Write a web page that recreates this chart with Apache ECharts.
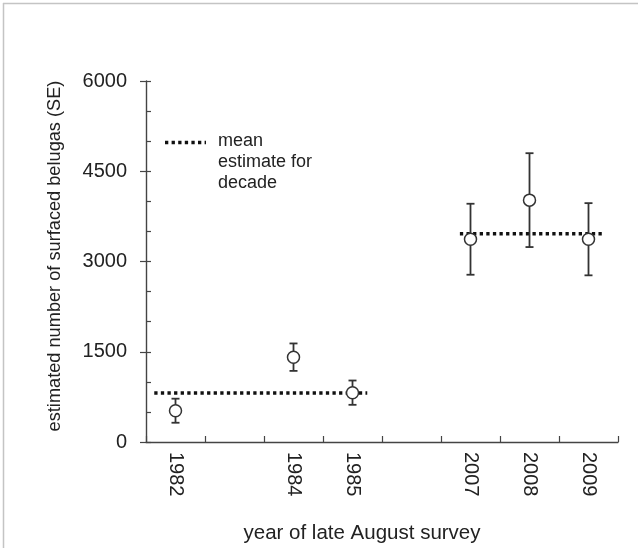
<!DOCTYPE html>
<html>
<head>
<meta charset="utf-8">
<script src="https://cdn.jsdelivr.net/npm/echarts@6/dist/echarts.min.js"></script>
<style>
  html, body { margin: 0; padding: 0; background: #fff; }
  #chart { width: 638px; height: 548px; }
</style>
</head>
<body>
<div id="chart"></div>
<script>
// Survey years (blank slots keep the gaps between survey years)
const years = ['1982', '', '1984', '1985', '', '2007', '2008', '2009'];
// Estimated number of surfaced belugas per survey year
const estimates = [520, null, 1410, 820, null, 3370, 4020, 3370];
// Standard error (half-length of each error bar)
const standardErrors = [200, null, 228, 202, null, 590, 780, 600];
// Mean estimate for each decade and the category span its line covers
const decadeMeans = [815, 3460];
const decadeSpans = [[-0.36, 3.25], [4.82, 7.23]];
// Y-axis range and tick steps
const yMin = 0, yMax = 6000, yLabelStep = 1500, yMinorStep = 500;

const FONT = '"Liberation Sans", Arial, sans-serif';
const INK = '#222';
const AXIS = '#444';

const points = [];
const bars = [];
estimates.forEach((v, i) => {
  if (v == null) return;
  points.push([i, v]);
  bars.push([i, v - standardErrors[i], v + standardErrors[i]]);
});

const meanSeries = decadeMeans.map((m, k) => ({
  type: 'line',
  xAxisIndex: 1,
  yAxisIndex: 0,
  symbol: 'none',
  silent: true,
  z: 3,
  lineStyle: { color: '#111', width: 3.4, type: [3.3, 3.3], cap: 'butt' },
  data: [[decadeSpans[k][0], m], [decadeSpans[k][1], m]]
}));

const chart = echarts.init(document.getElementById('chart'), null, { renderer: 'canvas' });

chart.setOption({
  animation: false,
  backgroundColor: '#fff',
  grid: { left: 146, right: 20, top: 81, bottom: 106, containLabel: false },
  xAxis: [
    {
      type: 'category',
      data: years,
      boundaryGap: true,
      axisLine: { show: true, onZero: false, lineStyle: { color: AXIS, width: 1.4 } },
      axisTick: { show: true, inside: true, length: 6, interval: 0, alignWithLabel: false,
                  lineStyle: { color: AXIS, width: 1.2 } },
      axisLabel: { rotate: -90, margin: 10, interval: 0, color: INK,
                   fontFamily: FONT, fontSize: 20 },
      splitLine: { show: false }
    },
    {
      type: 'value',
      min: -0.5,
      max: 7.5,
      show: false
    }
  ],
  yAxis: [
    {
      type: 'value',
      min: yMin,
      max: yMax,
      interval: yLabelStep,
      position: 'left',
      axisLine: { show: true, onZero: false, lineStyle: { color: AXIS, width: 1.4 } },
      axisTick: { show: true, inside: false, length: 6, lineStyle: { color: AXIS, width: 1.2 } },
      axisLabel: { margin: 19, color: INK, fontFamily: FONT, fontSize: 20,
                   formatter: v => String(v) },
      splitLine: { show: false }
    },
    {
      type: 'value',
      min: yMin,
      max: yMax,
      interval: yMinorStep,
      position: 'left',
      offset: 0,
      axisLine: { show: false, onZero: false },
      axisTick: { show: true, inside: true, length: 5, lineStyle: { color: AXIS, width: 1.2 } },
      axisLabel: { show: false },
      splitLine: { show: false }
    }
  ],
  series: [
    ...meanSeries,
    {
      type: 'custom',
      xAxisIndex: 0,
      yAxisIndex: 0,
      silent: true,
      z: 4,
      data: bars,
      renderItem: function (params, api) {
        const x = api.value(0);
        const lo = api.coord([x, api.value(1)]);
        const hi = api.coord([x, api.value(2)]);
        const cap = 4;
        const style = { stroke: '#333', lineWidth: 1.8 };
        return {
          type: 'group',
          children: [
            { type: 'line', shape: { x1: lo[0], y1: lo[1], x2: hi[0], y2: hi[1] }, style },
            { type: 'line', shape: { x1: hi[0] - cap, y1: hi[1], x2: hi[0] + cap, y2: hi[1] }, style },
            { type: 'line', shape: { x1: lo[0] - cap, y1: lo[1], x2: lo[0] + cap, y2: lo[1] }, style }
          ]
        };
      }
    },
    {
      type: 'scatter',
      xAxisIndex: 0,
      yAxisIndex: 0,
      z: 5,
      symbol: 'circle',
      symbolSize: 12,
      itemStyle: { color: '#fff', borderColor: '#333', borderWidth: 1.5, opacity: 1 },
      data: points
    }
  ],
  graphic: [
    // frame lines
    { type: 'line', shape: { x1: 3, y1: 3.5, x2: 638, y2: 3.5 }, style: { stroke: '#c4c4c4', lineWidth: 1.5 }, silent: true },
    { type: 'line', shape: { x1: 3.5, y1: 3, x2: 3.5, y2: 548 }, style: { stroke: '#c4c4c4', lineWidth: 1.5 }, silent: true },
    // legend key
    { type: 'line', shape: { x1: 165, y1: 142.5, x2: 206, y2: 142.5 },
      style: { stroke: '#111', lineWidth: 3.4, lineDash: [3.3, 3.3] }, silent: true },
    { type: 'text', x: 218, y: 131,
      style: { text: 'mean\nestimate for\ndecade', fill: INK, font: '18px ' + FONT,
               lineHeight: 21, align: 'left', verticalAlign: 'top' }, silent: true },
    // axis titles
    { type: 'text', x: 362, y: 533,
      style: { text: 'year of late August survey', fill: INK, font: '20.5px ' + FONT,
               align: 'center', verticalAlign: 'middle' }, silent: true },
    { type: 'text', x: 55, y: 256, rotation: Math.PI / 2,
      style: { text: 'estimated number of surfaced belugas (SE)', fill: INK, font: '18.2px ' + FONT,
               align: 'center', verticalAlign: 'middle' }, silent: true }
  ]
});
</script>
</body>
</html>
